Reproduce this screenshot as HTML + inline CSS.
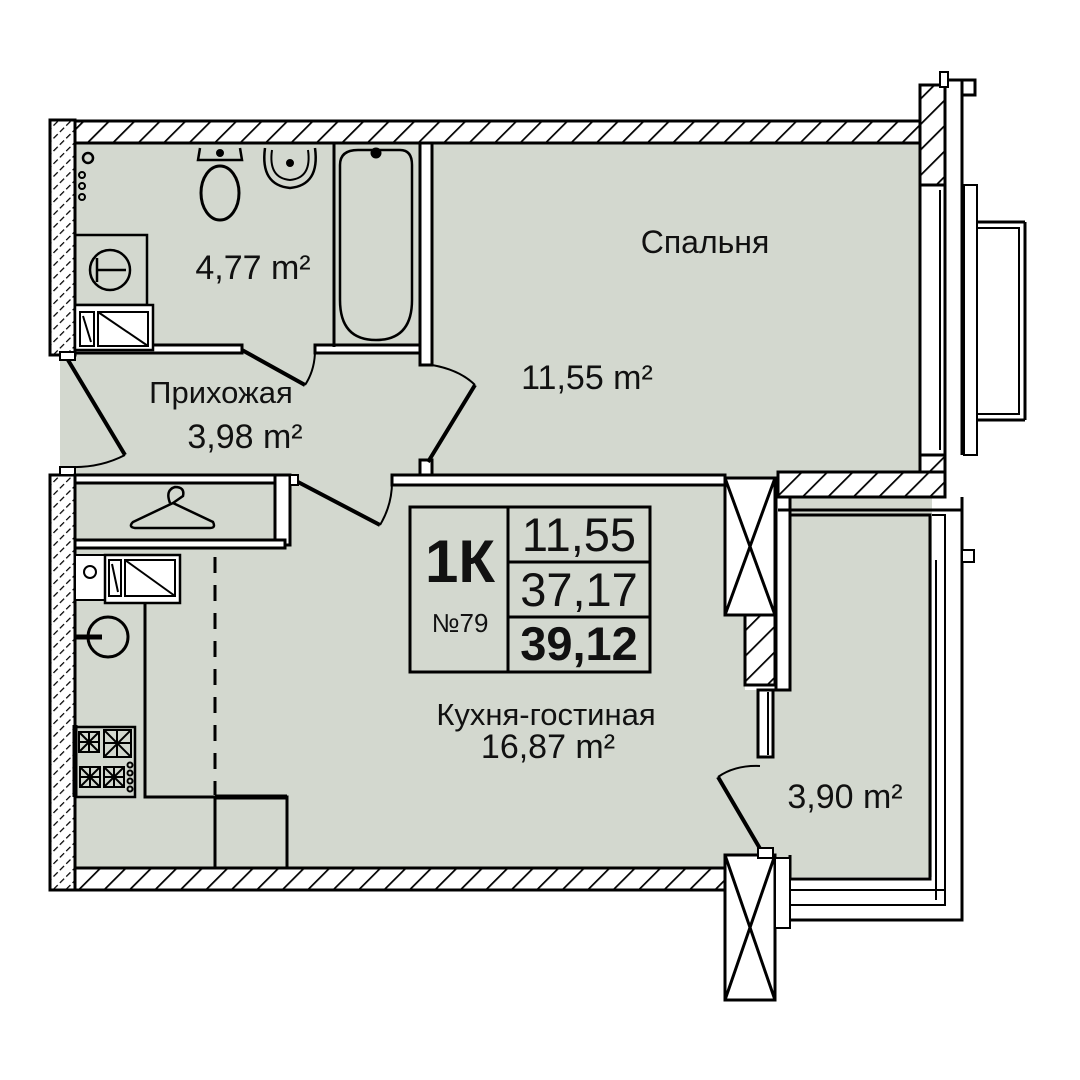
<!DOCTYPE html>
<html><head><meta charset="utf-8"><style>
html,body{margin:0;padding:0;background:#fff;width:1080px;height:1080px;overflow:hidden}
svg{display:block}
text{font-family:"Liberation Sans",sans-serif;fill:#111}
</style></head><body>
<svg width="1080" height="1080" viewBox="0 0 1080 1080" xmlns="http://www.w3.org/2000/svg">
<defs>
<pattern id="h" width="18" height="18" patternUnits="userSpaceOnUse" patternTransform="rotate(45)">
<rect width="18" height="18" fill="#fff"/><line x1="0" y1="0" x2="0" y2="18" stroke="#000" stroke-width="3.5"/>
</pattern>
<pattern id="hd" width="9" height="9" patternUnits="userSpaceOnUse" patternTransform="rotate(45)">
<rect width="9" height="9" fill="#fff"/><line x1="0" y1="0" x2="0" y2="9" stroke="#000" stroke-width="2.5" stroke-dasharray="6 3 1.5 3"/>
</pattern>
</defs>
<g stroke="#000" stroke-width="3" fill="none">
<rect x="60" y="143" width="860" height="725" fill="#d3d8cf" stroke="none"/>
<rect x="720" y="485" width="212" height="392" fill="#d3d8cf" stroke="none"/>
<rect x="745" y="478" width="45" height="212" fill="#fff" stroke="none"/>
<rect x="725" y="478" width="50" height="137" fill="#fff" stroke="none"/>
<rect x="776" y="497" width="14" height="193" fill="#fff"/>
<rect x="725" y="478" width="50" height="137" fill="#fff"/>
<line x1="725" y1="478" x2="775" y2="615"/><line x1="775" y1="478" x2="725" y2="615"/>
<rect x="745" y="615" width="30" height="70" fill="url(#h)"/>
<rect x="758" y="690" width="15" height="67" fill="#fff"/>
<line x1="768" y1="692" x2="768" y2="755" stroke-width="2"/>
<polyline points="790,690 790,515 930,515 930,879 790,879 790,855" stroke-width="3"/>
<polyline points="932,515 945,515 945,905 790,905" stroke-width="2"/>
<polyline points="962,497 962,920 790,920" stroke-width="3"/>
<rect x="962" y="550" width="12" height="12" stroke-width="2" fill="#fff"/>
<line x1="936" y1="560" x2="936" y2="900" stroke-width="2"/>
<line x1="790" y1="890" x2="945" y2="890" stroke-width="2"/>
<rect x="75" y="121" width="845" height="22" fill="url(#h)"/>
<rect x="920" y="85" width="25" height="100" fill="url(#h)"/>
<rect x="920" y="185" width="25" height="270" fill="#fff"/>
<line x1="940" y1="190" x2="940" y2="450" stroke-width="2"/>
<rect x="920" y="455" width="25" height="42" fill="url(#h)"/>
<rect x="778" y="472" width="167" height="25" fill="url(#h)"/>
<line x1="778" y1="510" x2="962" y2="510" stroke-width="3"/>
<polyline points="945,85 945,497" />
<polyline points="962,80 962,455" stroke-width="3"/>
<polyline points="945,80 975,80 975,95 962,95"/>
<rect x="940" y="72" width="8" height="15" stroke-width="2" fill="#fff"/>
<rect x="964" y="185" width="13" height="270" stroke-width="2" fill="#fff"/>
<line x1="977" y1="222" x2="1025" y2="222"/><line x1="977" y1="228" x2="1020" y2="228" stroke-width="2"/>
<line x1="977" y1="420" x2="1025" y2="420"/><line x1="977" y1="414" x2="1020" y2="414" stroke-width="2"/>
<line x1="1025" y1="222" x2="1025" y2="420"/><line x1="1019" y1="228" x2="1019" y2="414" stroke-width="2"/>
<rect x="50" y="120" width="25" height="235" fill="url(#hd)"/>
<rect x="50" y="475" width="25" height="415" fill="url(#hd)"/>
<rect x="75" y="868" width="650" height="22" fill="url(#h)"/>
<rect x="725" y="855" width="50" height="145" fill="#fff"/>
<line x1="725" y1="855" x2="775" y2="1000"/><line x1="775" y1="855" x2="725" y2="1000"/>
<rect x="775" y="858" width="15" height="70" fill="#fff" stroke-width="2"/>
<rect x="75" y="345" width="167" height="8" fill="#fff"/>
<rect x="315" y="345" width="107" height="8" fill="#fff"/>
<rect x="420" y="143" width="12" height="222" fill="#fff"/>
<line x1="334" y1="143" x2="334" y2="347"/>
<path d="M340 165 Q340 150 358 150 L400 150 Q412 150 412 165 L412 300 Q412 340 376 340 Q340 340 340 300 Z" stroke-width="2.5"/>
<circle cx="376" cy="153" r="4" fill="#000"/>
<rect x="75" y="235" width="72" height="70" stroke-width="2.5"/>
<circle cx="110" cy="270" r="20" stroke-width="2.5"/>
<path d="M97 258 V282 M97 270 H126" stroke-width="2.5"/>
<rect x="75" y="305" width="78" height="45" fill="#fff" stroke-width="2.5"/>
<rect x="80" y="312" width="14" height="34" stroke-width="2"/><rect x="98" y="312" width="50" height="34" stroke-width="2"/>
<line x1="98" y1="312" x2="148" y2="346" stroke-width="2"/><line x1="83" y1="316" x2="91" y2="342" stroke-width="2"/>
<circle cx="88" cy="158" r="5" stroke-width="2.5"/>
<circle cx="82" cy="175" r="3" stroke-width="2"/><circle cx="82" cy="186" r="3" stroke-width="2"/><circle cx="82" cy="197" r="3" stroke-width="2"/>
<ellipse cx="220" cy="193" rx="19" ry="27" stroke-width="3"/>
<path d="M200 148 L198 160 L242 160 L240 148" stroke-width="2.5"/>
<path d="M265 148 Q260 185 290 188 Q320 185 315 148" stroke-width="2.5"/>
<path d="M272 150 Q268 178 290 180 Q312 178 308 150" stroke-width="2"/>
<circle cx="220" cy="153" r="2.5" fill="#000"/><circle cx="290" cy="163" r="2.5" fill="#000"/>
<line x1="242" y1="350" x2="305" y2="385" stroke-width="4"/>
<path d="M305 385 Q315 370 315 350" stroke-width="2"/>
<rect x="420" y="460" width="12" height="15" fill="#fff"/>
<line x1="428" y1="462" x2="475" y2="385" stroke-width="4"/>
<path d="M432 365 Q460 370 475 385" stroke-width="2"/>
<line x1="68" y1="360" x2="125" y2="455" stroke-width="4"/>
<path d="M125 455 Q100 468 70 467" stroke-width="2"/>
<rect x="60" y="352" width="15" height="8" fill="#fff" stroke-width="2"/>
<rect x="60" y="467" width="15" height="8" fill="#fff" stroke-width="2"/>
<rect x="75" y="475" width="200" height="8" fill="#fff"/>
<rect x="275" y="475" width="15" height="70" fill="#fff"/>
<rect x="75" y="540" width="210" height="8" fill="#fff"/>
<path d="M170 503 Q165 490 175 487 Q185 487 183 496 L173 503 L213 522 Q216 528 210 528 L135 528 Q128 527 133 522 L173 503" stroke-width="2.5"/>
<rect x="290" y="475" width="8" height="10" fill="#fff" stroke-width="2"/>
<line x1="298" y1="482" x2="380" y2="525" stroke-width="4"/>
<path d="M380 525 Q392 505 392 482" stroke-width="2"/>
<rect x="392" y="475" width="333" height="10" fill="#fff"/>
<rect x="75" y="555" width="30" height="45" fill="#fff" stroke-width="2"/>
<circle cx="90" cy="572" r="6" stroke-width="2"/>
<rect x="105" y="555" width="75" height="48" fill="#fff" stroke-width="2.5"/>
<rect x="109" y="560" width="12" height="36" stroke-width="2"/><rect x="125" y="560" width="50" height="36" stroke-width="2"/>
<line x1="125" y1="560" x2="175" y2="596" stroke-width="2"/><line x1="112" y1="564" x2="118" y2="592" stroke-width="2"/>
<polyline points="145,603 145,797 215,797"/>
<line x1="215" y1="557" x2="215" y2="795" stroke-dasharray="16 12"/>
<polyline points="215,868 215,797 287,797 287,868"/>
<line x1="215" y1="797" x2="287" y2="797" stroke-width="5"/>
<circle cx="108" cy="637" r="20" stroke-width="3"/>
<line x1="75" y1="637" x2="102" y2="637" stroke-width="5"/>
<rect x="75" y="727" width="60" height="70" stroke-width="2.5"/>
<g stroke-width="2">
<rect x="79" y="732" width="20" height="20"/><rect x="104" y="730" width="27" height="27"/>
<rect x="80" y="767" width="20" height="20"/><rect x="104" y="767" width="20" height="20"/>
<path d="M79 732 L99 752 M99 732 L79 752 M89 732 V752 M79 742 H99"/>
<path d="M104 730 L131 757 M131 730 L104 757 M117 730 V757 M104 743 H131"/>
<path d="M80 767 L100 787 M100 767 L80 787 M90 767 V787 M80 777 H100"/>
<path d="M104 767 L124 787 M124 767 L104 787 M114 767 V787 M104 777 H124"/>
<circle cx="130" cy="765" r="2.5"/><circle cx="130" cy="773" r="2.5"/><circle cx="130" cy="781" r="2.5"/><circle cx="130" cy="789" r="2.5"/>
</g>
<line x1="75" y1="725" x2="75" y2="797" stroke-width="5"/>
<line x1="718" y1="777" x2="762" y2="852" stroke-width="4"/>
<path d="M718 777 Q735 765 760 766" stroke-width="2"/>
<rect x="758" y="848" width="15" height="10" fill="#fff" stroke-width="2"/>
<rect x="410" y="507" width="240" height="165" stroke-width="3"/>
<line x1="508" y1="507" x2="508" y2="672"/>
<line x1="508" y1="562" x2="650" y2="562"/>
<line x1="508" y1="617" x2="650" y2="617"/>
</g>
<g>
<text x="705" y="253" font-size="32" text-anchor="middle">Спальня</text>
<text x="587" y="389" font-size="34" text-anchor="middle">11,55 m²</text>
<text x="253" y="279" font-size="34" text-anchor="middle">4,77 m²</text>
<text x="221" y="403" font-size="31" text-anchor="middle">Прихожая</text>
<text x="245" y="448" font-size="34" text-anchor="middle">3,98 m²</text>
<text x="546" y="725" font-size="31" text-anchor="middle">Кухня-гостиная</text>
<text x="548" y="758" font-size="34" text-anchor="middle">16,87 m²</text>
<text x="845" y="808" font-size="34" text-anchor="middle">3,90 m²</text>
<text x="460" y="582" font-size="60" font-weight="bold" text-anchor="middle">1К</text>
<text x="460" y="632" font-size="26" text-anchor="middle">№79</text>
<text x="579" y="551" font-size="47" text-anchor="middle">11,55</text>
<text x="579" y="606" font-size="47" text-anchor="middle">37,17</text>
<text x="579" y="660" font-size="47" font-weight="bold" text-anchor="middle">39,12</text>
</g>
</svg>
</body></html>
